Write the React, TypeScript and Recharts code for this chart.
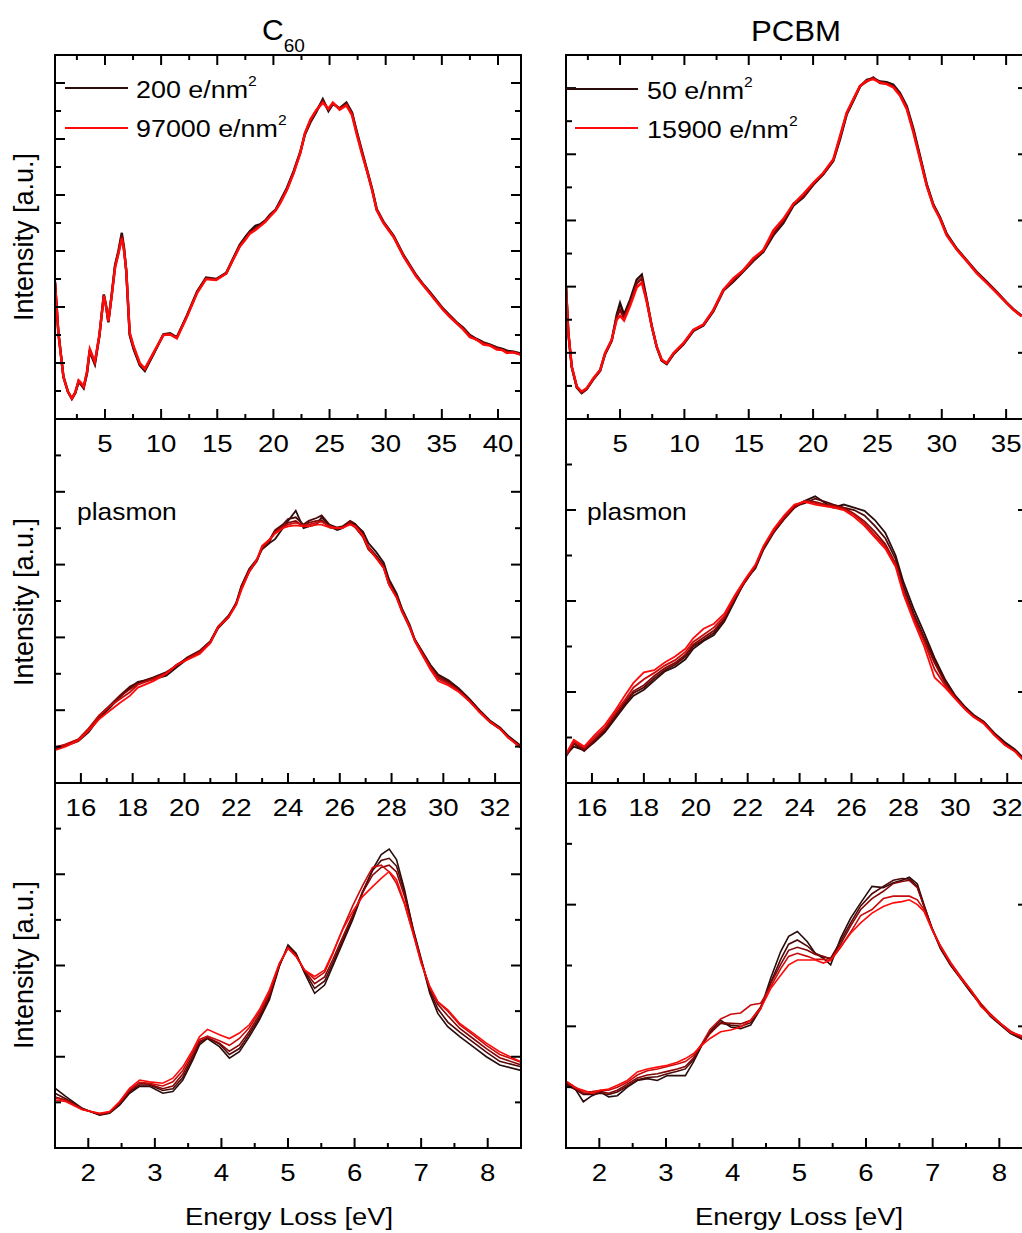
import React from "react";
import { LineChart, Line, XAxis, YAxis } from "recharts";

// ---------- data ----------
// dose series go from first dose (dark) to last dose (red)
const c60Doses = ["200", "97000"];
const pcbmDoses = ["50", "15900"];

// C60, full range
const c60WideEnergy = [0.55, 0.85, 1.3, 1.7, 2.05, 2.35, 2.65, 2.85, 3.1, 3.4, 3.65, 3.85, 4.1, 4.5, 4.9, 5.1, 5.3, 5.6, 5.9, 6.2, 6.5, 6.7, 6.9, 7.2, 7.55, 8.1, 8.55, 9.3, 10.2, 10.8, 11.4, 12.3, 13.2, 14.0, 14.9, 15.8, 16.4, 17.0, 17.5, 17.9, 18.4, 18.8, 19.3, 19.7, 20.2, 20.6, 21.2, 21.8, 22.4, 22.8, 23.3, 23.8, 24.4, 24.9, 25.3, 25.9, 26.5, 27.0, 27.4, 27.9, 28.3, 28.8, 29.2, 29.8, 30.7, 31.6, 32.7, 33.4, 33.9, 34.5, 35.1, 35.7, 36.3, 36.9, 37.5, 38.1, 38.7, 39.3, 39.9, 40.4, 40.8, 41.4, 42.0];
const c60WideLow = [4.9, 3.1, 1.52, 0.98, 0.72, 0.92, 1.32, 1.24, 1.1, 1.62, 2.45, 2.2, 1.95, 2.95, 4.45, 4.05, 3.45, 4.45, 5.5, 6.0, 6.65, 6.1, 5.25, 3.0, 2.5, 1.92, 1.72, 2.3, 3.02, 3.06, 2.92, 3.7, 4.55, 5.05, 5.0, 5.22, 5.72, 6.22, 6.5, 6.7, 6.9, 6.95, 7.1, 7.3, 7.48, 7.78, 8.25, 8.85, 9.55, 10.15, 10.6, 10.95, 11.42, 11.0, 11.25, 11.1, 11.3, 10.95, 10.3, 9.55, 8.95, 8.2, 7.5, 7.05, 6.55, 5.85, 5.15, 4.78, 4.55, 4.25, 3.95, 3.7, 3.46, 3.26, 3.0, 2.86, 2.74, 2.66, 2.56, 2.5, 2.44, 2.4, 2.34];
const c60WideMid = [4.88, 3.08, 1.5, 0.97, 0.73, 0.94, 1.35, 1.27, 1.13, 1.66, 2.48, 2.25, 2.0, 2.98, 4.42, 4.02, 3.48, 4.42, 5.45, 5.95, 6.55, 6.05, 5.28, 3.05, 2.55, 1.96, 1.76, 2.32, 3.0, 3.04, 2.9, 3.68, 4.52, 5.02, 4.98, 5.2, 5.7, 6.18, 6.45, 6.66, 6.8, 6.9, 7.08, 7.26, 7.46, 7.74, 8.2, 8.8, 9.52, 10.18, 10.66, 11.0, 11.35, 11.05, 11.28, 11.08, 11.25, 10.9, 10.25, 9.5, 8.92, 8.18, 7.48, 7.02, 6.52, 5.82, 5.12, 4.76, 4.52, 4.22, 3.92, 3.68, 3.44, 3.22, 2.98, 2.82, 2.72, 2.63, 2.54, 2.47, 2.4, 2.38, 2.31];
const c60WideHigh = [4.86, 3.05, 1.5, 0.98, 0.74, 0.95, 1.38, 1.3, 1.16, 1.7, 2.5, 2.3, 2.05, 3.0, 4.4, 4.0, 3.5, 4.4, 5.4, 5.9, 6.45, 6.0, 5.3, 3.1, 2.6, 2.0, 1.8, 2.35, 3.0, 3.02, 2.88, 3.65, 4.5, 5.0, 4.96, 5.2, 5.68, 6.15, 6.4, 6.62, 6.75, 6.88, 7.05, 7.23, 7.45, 7.7, 8.18, 8.78, 9.5, 10.2, 10.7, 11.02, 11.3, 11.08, 11.3, 11.05, 11.2, 10.85, 10.2, 9.45, 8.9, 8.15, 7.45, 7.0, 6.5, 5.8, 5.1, 4.75, 4.5, 4.2, 3.9, 3.65, 3.42, 3.2, 2.92, 2.84, 2.66, 2.62, 2.48, 2.46, 2.36, 2.38, 2.3];

// PCBM, full range
const pcbmWideEnergy = [0.8, 0.98, 1.25, 1.64, 2.02, 2.41, 2.93, 3.45, 3.83, 4.35, 4.74, 5.0, 5.31, 5.78, 6.3, 6.69, 7.07, 7.46, 7.85, 8.24, 8.63, 9.14, 9.92, 10.7, 11.47, 12.25, 13.03, 13.8, 14.58, 15.36, 16.13, 16.91, 17.69, 18.47, 19.24, 20.02, 20.8, 21.57, 22.09, 22.61, 23.13, 23.65, 24.17, 24.68, 25.2, 25.72, 26.24, 26.76, 27.28, 27.79, 28.31, 28.83, 29.35, 29.86, 30.38, 31.16, 31.94, 32.71, 33.49, 34.27, 35.04, 35.56, 36.2];
const pcbmWideLow = [4.0, 2.62, 1.56, 0.95, 0.78, 0.9, 1.2, 1.45, 1.95, 2.36, 3.15, 3.5, 3.15, 3.6, 4.21, 4.36, 3.62, 2.82, 2.17, 1.76, 1.66, 1.95, 2.25, 2.66, 2.82, 3.25, 3.88, 4.15, 4.46, 4.78, 5.05, 5.55, 5.92, 6.45, 6.7, 7.08, 7.4, 7.8, 8.45, 9.2, 9.62, 10.05, 10.25, 10.3, 10.2, 10.18, 10.1, 9.85, 9.45, 8.78, 7.95, 7.1, 6.48, 6.1, 5.6, 5.15, 4.8, 4.45, 4.15, 3.84, 3.52, 3.32, 3.12];
const pcbmWideMid = [4.0, 2.61, 1.57, 0.97, 0.8, 0.92, 1.22, 1.47, 1.97, 2.38, 3.08, 3.3, 3.05, 3.5, 4.1, 4.25, 3.58, 2.81, 2.18, 1.78, 1.68, 1.97, 2.27, 2.68, 2.84, 3.28, 3.9, 4.18, 4.49, 4.8, 5.1, 5.6, 5.98, 6.5, 6.72, 7.1, 7.42, 7.82, 8.5, 9.23, 9.65, 10.06, 10.2, 10.32, 10.15, 10.14, 10.05, 9.8, 9.4, 8.72, 7.9, 7.07, 6.45, 6.08, 5.58, 5.13, 4.78, 4.43, 4.13, 3.82, 3.51, 3.31, 3.11];
const pcbmWideHigh = [4.0, 2.6, 1.58, 0.98, 0.83, 0.93, 1.23, 1.48, 1.99, 2.39, 3.0, 3.12, 2.98, 3.42, 3.98, 4.12, 3.55, 2.8, 2.19, 1.79, 1.69, 1.99, 2.29, 2.7, 2.85, 3.3, 3.91, 4.25, 4.5, 4.86, 5.1, 5.7, 6.05, 6.5, 6.8, 7.14, 7.44, 7.85, 8.55, 9.26, 9.67, 10.07, 10.22, 10.27, 10.17, 10.12, 10.02, 9.77, 9.36, 8.66, 7.85, 7.04, 6.43, 6.05, 5.55, 5.12, 4.77, 4.41, 4.11, 3.81, 3.5, 3.3, 3.1];

// C60, plasmon
const c60PlasmonEnergy = [15.0, 15.4, 15.9, 16.3, 16.7, 17.1, 17.5, 17.9, 18.2, 18.8, 19.3, 19.7, 20.1, 20.6, 21.0, 21.3, 21.7, 22.0, 22.2, 22.5, 22.8, 23.0, 23.3, 23.5, 23.8, 24.0, 24.3, 24.6, 24.8, 25.1, 25.3, 25.6, 25.9, 26.1, 26.4, 26.6, 26.9, 27.1, 27.4, 27.7, 27.9, 28.2, 28.4, 28.7, 28.9, 29.2, 29.5, 29.8, 30.2, 30.6, 31.0, 31.4, 31.8, 32.2, 32.5, 33.0];
const c60Plasmon1 = [0.92, 1.02, 1.15, 1.4, 1.78, 2.05, 2.35, 2.62, 2.78, 2.85, 2.95, 3.18, 3.4, 3.58, 3.85, 4.25, 4.55, 4.95, 5.42, 5.88, 6.15, 6.42, 6.6, 6.7, 7.0, 7.2, 7.48, 7.0, 7.05, 7.1, 7.3, 7.05, 6.95, 7.0, 7.15, 7.1, 6.9, 6.6, 6.35, 6.05, 5.6, 5.2, 4.8, 4.35, 3.95, 3.6, 3.25, 2.98, 2.82, 2.6, 2.32, 2.0, 1.72, 1.52, 1.3, 1.02];
const c60Plasmon2 = [0.95, 1.04, 1.2, 1.48, 1.85, 2.12, 2.4, 2.65, 2.76, 2.9, 3.05, 3.22, 3.45, 3.64, 3.9, 4.3, 4.6, 4.92, 5.35, 5.8, 6.1, 6.48, 6.7, 6.95, 7.1, 7.25, 7.3, 7.1, 7.2, 7.28, 7.35, 7.1, 7.02, 7.05, 7.2, 7.12, 6.85, 6.5, 6.25, 5.98, 5.52, 5.15, 4.78, 4.3, 3.94, 3.58, 3.22, 2.95, 2.8, 2.57, 2.3, 1.98, 1.7, 1.5, 1.28, 1.0];
const c60Plasmon3 = [0.97, 1.05, 1.18, 1.45, 1.8, 2.1, 2.38, 2.58, 2.72, 2.88, 3.0, 3.25, 3.42, 3.62, 3.88, 4.28, 4.58, 4.95, 5.4, 5.85, 6.12, 6.45, 6.65, 6.92, 7.05, 7.15, 7.2, 7.05, 7.15, 7.2, 7.22, 7.02, 6.98, 7.02, 7.18, 7.02, 6.75, 6.42, 6.2, 5.9, 5.45, 5.1, 4.72, 4.26, 3.9, 3.52, 3.18, 2.9, 2.76, 2.53, 2.26, 1.95, 1.67, 1.48, 1.25, 0.97];
const c60Plasmon4 = [0.98, 1.06, 1.2, 1.5, 1.85, 2.1, 2.3, 2.5, 2.7, 2.85, 3.02, 3.25, 3.4, 3.6, 3.86, 4.3, 4.55, 4.9, 5.35, 5.82, 6.12, 6.48, 6.68, 6.88, 7.02, 7.1, 7.15, 7.08, 7.1, 7.15, 7.18, 7.05, 7.0, 7.02, 7.12, 7.02, 6.78, 6.45, 6.2, 5.92, 5.48, 5.1, 4.74, 4.3, 3.92, 3.55, 3.18, 2.86, 2.72, 2.52, 2.26, 1.95, 1.68, 1.48, 1.26, 0.98];
const c60Plasmon5 = [0.9, 1.0, 1.16, 1.44, 1.75, 1.98, 2.2, 2.4, 2.62, 2.8, 3.0, 3.24, 3.38, 3.55, 3.85, 4.28, 4.55, 4.9, 5.3, 5.8, 6.15, 6.52, 6.7, 6.85, 7.0, 7.05, 7.08, 7.05, 7.05, 7.1, 7.1, 7.02, 7.0, 7.0, 7.1, 7.05, 6.8, 6.48, 6.18, 5.9, 5.45, 5.08, 4.7, 4.28, 3.9, 3.5, 3.12, 2.8, 2.68, 2.5, 2.25, 1.95, 1.68, 1.48, 1.25, 0.96];

// PCBM, plasmon
const pcbmPlasmonEnergy = [15.0, 15.3, 15.7, 16.1, 16.5, 16.9, 17.3, 17.6, 18.0, 18.4, 18.8, 19.2, 19.6, 19.9, 20.3, 20.7, 21.1, 21.5, 21.9, 22.3, 22.6, 23.0, 23.4, 23.8, 24.2, 24.6, 25.0, 25.3, 25.7, 26.1, 26.5, 26.9, 27.3, 27.7, 28.0, 28.4, 28.8, 29.2, 29.6, 30.0, 30.4, 30.7, 31.1, 31.5, 31.9, 32.3, 32.6, 33.0];
const pcbmPlasmon1 = [0.62, 0.8, 0.72, 0.9, 1.12, 1.42, 1.72, 1.92, 2.05, 2.25, 2.45, 2.55, 2.72, 2.95, 3.12, 3.25, 3.55, 4.0, 4.45, 4.72, 5.12, 5.5, 5.8, 6.05, 6.2, 6.3, 6.15, 6.05, 6.12, 6.05, 5.98, 5.78, 5.5, 5.0, 4.42, 3.82, 3.3, 2.75, 2.28, 1.92, 1.66, 1.5, 1.35, 1.1, 0.9, 0.74, 0.56, 0.42];
const pcbmPlasmon2 = [0.58, 0.86, 0.7, 0.92, 1.15, 1.46, 1.76, 1.98, 2.1, 2.3, 2.48, 2.6, 2.78, 3.0, 3.15, 3.3, 3.6, 4.05, 4.42, 4.75, 5.15, 5.55, 5.82, 6.08, 6.15, 6.25, 6.18, 6.12, 6.05, 6.0, 5.88, 5.65, 5.38, 4.92, 4.32, 3.72, 3.2, 2.7, 2.25, 1.9, 1.64, 1.48, 1.34, 1.08, 0.87, 0.72, 0.54, 0.4];
const pcbmPlasmon3 = [0.6, 0.88, 0.74, 0.95, 1.18, 1.5, 1.8, 2.02, 2.15, 2.35, 2.52, 2.64, 2.82, 3.04, 3.2, 3.35, 3.62, 4.06, 4.42, 4.76, 5.16, 5.52, 5.8, 6.05, 6.2, 6.18, 6.12, 6.1, 6.05, 5.92, 5.75, 5.52, 5.25, 4.82, 4.22, 3.65, 3.15, 2.64, 2.2, 1.88, 1.62, 1.47, 1.33, 1.07, 0.85, 0.7, 0.52, 0.38];
const pcbmPlasmon4 = [0.62, 0.92, 0.78, 1.0, 1.22, 1.55, 1.85, 2.1, 2.28, 2.42, 2.58, 2.7, 2.88, 3.1, 3.26, 3.42, 3.66, 4.08, 4.45, 4.78, 5.18, 5.55, 5.85, 6.1, 6.2, 6.15, 6.1, 6.08, 6.02, 5.9, 5.7, 5.45, 5.2, 4.8, 4.2, 3.6, 3.1, 2.5, 2.15, 1.86, 1.62, 1.46, 1.32, 1.06, 0.84, 0.7, 0.52, 0.38];
const pcbmPlasmon5 = [0.64, 0.95, 0.8, 1.05, 1.28, 1.6, 1.95, 2.2, 2.43, 2.48, 2.65, 2.78, 2.95, 3.18, 3.39, 3.5, 3.72, 4.12, 4.48, 4.8, 5.2, 5.58, 5.88, 6.12, 6.18, 6.12, 6.08, 6.05, 6.0, 5.85, 5.65, 5.4, 5.15, 4.75, 4.15, 3.55, 3.0, 2.32, 2.1, 1.85, 1.6, 1.45, 1.3, 1.05, 0.84, 0.69, 0.51, 0.38];

// C60, low loss
const c60LowEnergy = [1.5, 1.66, 1.91, 2.17, 2.32, 2.47, 2.62, 2.77, 2.92, 3.12, 3.27, 3.42, 3.57, 3.67, 3.79, 3.97, 4.12, 4.27, 4.42, 4.57, 4.72, 4.87, 5.0, 5.12, 5.25, 5.4, 5.55, 5.67, 5.82, 5.97, 6.12, 6.27, 6.4, 6.52, 6.63, 6.75, 6.88, 7.0, 7.13, 7.25, 7.4, 7.58, 7.78, 7.98, 8.18, 8.5];
const c60Low1 = [1.31, 1.13, 0.87, 0.72, 0.76, 0.94, 1.2, 1.35, 1.35, 1.2, 1.24, 1.49, 1.93, 2.26, 2.4, 2.22, 1.97, 2.11, 2.44, 2.81, 3.25, 3.98, 4.45, 4.27, 3.83, 3.39, 3.57, 3.98, 4.49, 5.0, 5.59, 6.1, 6.43, 6.55, 6.32, 5.66, 4.78, 4.12, 3.39, 2.95, 2.66, 2.44, 2.22, 2.0, 1.82, 1.7];
const c60Low2 = [1.2, 1.08, 0.86, 0.73, 0.77, 0.96, 1.23, 1.38, 1.38, 1.26, 1.3, 1.55, 1.98, 2.3, 2.42, 2.28, 2.05, 2.18, 2.5, 2.86, 3.3, 4.0, 4.42, 4.25, 3.86, 3.5, 3.66, 4.05, 4.55, 5.05, 5.62, 6.08, 6.3, 6.35, 6.18, 5.6, 4.8, 4.15, 3.45, 3.05, 2.76, 2.54, 2.32, 2.1, 1.9, 1.78];
const c60Low3 = [1.12, 1.05, 0.85, 0.74, 0.78, 0.98, 1.26, 1.42, 1.4, 1.3, 1.36, 1.62, 2.04, 2.34, 2.42, 2.3, 2.12, 2.26, 2.56, 2.92, 3.35, 4.02, 4.4, 4.22, 3.88, 3.6, 3.75, 4.12, 4.62, 5.1, 5.6, 5.98, 6.15, 6.2, 6.05, 5.52, 4.75, 4.1, 3.5, 3.15, 2.9, 2.62, 2.4, 2.18, 1.98, 1.82];
const c60Low4 = [1.1, 1.04, 0.85, 0.75, 0.79, 1.0, 1.28, 1.44, 1.42, 1.36, 1.45, 1.7, 2.1, 2.38, 2.45, 2.35, 2.25, 2.4, 2.64, 2.98, 3.4, 4.03, 4.38, 4.2, 3.9, 3.7, 3.85, 4.25, 4.8, 5.3, 5.75, 6.15, 6.2, 6.05, 5.8, 5.35, 4.7, 4.08, 3.52, 3.2, 3.0, 2.7, 2.48, 2.25, 2.05, 1.88];
const c60Low5 = [1.05, 1.02, 0.84, 0.76, 0.8, 1.02, 1.31, 1.49, 1.45, 1.42, 1.53, 1.78, 2.15, 2.44, 2.6, 2.48, 2.4, 2.52, 2.7, 3.03, 3.46, 4.05, 4.38, 4.2, 3.9, 3.76, 3.9, 4.27, 4.78, 5.18, 5.51, 5.73, 5.91, 6.06, 5.88, 5.37, 4.7, 4.05, 3.54, 3.21, 3.03, 2.73, 2.52, 2.3, 2.11, 1.89];

// PCBM, low loss
const pcbmLowEnergy = [1.5, 1.64, 1.76, 1.89, 2.02, 2.14, 2.27, 2.42, 2.57, 2.72, 2.87, 3.02, 3.17, 3.29, 3.41, 3.54, 3.66, 3.82, 3.97, 4.12, 4.27, 4.42, 4.57, 4.72, 4.84, 4.97, 5.12, 5.24, 5.36, 5.47, 5.62, 5.77, 5.92, 6.09, 6.26, 6.41, 6.54, 6.65, 6.77, 6.87, 6.99, 7.12, 7.27, 7.42, 7.57, 7.72, 7.87, 8.02, 8.17, 8.32, 8.5];
const pcbmLow1 = [1.08, 0.97, 0.76, 0.86, 0.92, 0.84, 0.86, 1.0, 1.11, 1.14, 1.11, 1.19, 1.19, 1.19, 1.41, 1.69, 1.91, 2.1, 1.99, 1.96, 2.02, 2.29, 2.79, 3.23, 3.48, 3.56, 3.39, 3.2, 3.12, 3.01, 3.45, 3.78, 4.03, 4.3, 4.28, 4.36, 4.4, 4.45, 4.34, 4.0, 3.61, 3.28, 3.01, 2.79, 2.57, 2.35, 2.16, 2.02, 1.88, 1.8, 1.72];
const pcbmLow2 = [1.04, 0.96, 0.88, 0.88, 0.9, 0.88, 0.92, 1.02, 1.12, 1.16, 1.17, 1.22, 1.26, 1.3, 1.45, 1.7, 1.9, 2.05, 2.02, 2.0, 2.06, 2.3, 2.72, 3.1, 3.35, 3.42, 3.32, 3.2, 3.14, 3.12, 3.4, 3.7, 3.98, 4.18, 4.3, 4.4, 4.43, 4.42, 4.3, 3.98, 3.6, 3.27, 3.0, 2.78, 2.56, 2.36, 2.17, 2.03, 1.89, 1.8, 1.73];
const pcbmLow3 = [1.06, 0.98, 0.9, 0.9, 0.93, 0.9, 0.95, 1.05, 1.15, 1.2, 1.22, 1.26, 1.3, 1.34, 1.48, 1.7, 1.88, 2.06, 2.05, 2.04, 2.1, 2.32, 2.7, 3.02, 3.25, 3.3, 3.25, 3.18, 3.15, 3.1, 3.35, 3.65, 3.92, 4.1, 4.22, 4.35, 4.38, 4.4, 4.28, 3.97, 3.62, 3.3, 3.02, 2.8, 2.58, 2.37, 2.18, 2.04, 1.9, 1.82, 1.74];
const pcbmLow4 = [1.1, 1.0, 0.92, 0.93, 0.95, 0.95, 1.0, 1.08, 1.2, 1.27, 1.3, 1.34, 1.38, 1.42, 1.52, 1.72, 1.95, 2.12, 2.2, 2.22, 2.35, 2.38, 2.65, 2.95, 3.15, 3.2, 3.15, 3.1, 3.1, 3.08, 3.3, 3.55, 3.82, 3.92, 4.1, 4.14, 4.14, 4.14, 4.08, 3.92, 3.6, 3.32, 3.05, 2.82, 2.6, 2.38, 2.2, 2.05, 1.92, 1.84, 1.76];
const pcbmLow5 = [1.1, 0.99, 0.95, 0.9, 0.95, 0.97, 1.03, 1.11, 1.25, 1.3, 1.33, 1.36, 1.41, 1.47, 1.55, 1.69, 1.8, 1.91, 1.94, 1.99, 2.1, 2.29, 2.62, 2.84, 3.01, 3.09, 3.09, 3.09, 3.04, 3.09, 3.31, 3.53, 3.7, 3.86, 3.97, 4.03, 4.05, 4.08, 4.0, 3.89, 3.59, 3.31, 3.04, 2.79, 2.6, 2.33, 2.18, 2.04, 1.9, 1.85, 1.78];

// axis ticks
const wideTicksC60 = [2.5, 5, 7.5, 10, 12.5, 15, 17.5, 20, 22.5, 25, 27.5, 30, 32.5, 35, 37.5, 40];
const wideTicksPcbm = [2.5, 5, 7.5, 10, 12.5, 15, 17.5, 20, 22.5, 25, 27.5, 30, 32.5, 35];
const plasmonTicks = [16, 17, 18, 19, 20, 21, 22, 23, 24, 25, 26, 27, 28, 29, 30, 31, 32];
const lowLossTicks = [2, 2.5, 3, 3.5, 4, 4.5, 5, 5.5, 6, 6.5, 7, 7.5, 8];
const yTicks13 = [1, 2, 3, 4, 5, 6, 7, 8, 9, 10, 11, 12];
const yTicks11 = [1, 2, 3, 4, 5, 6, 7, 8, 9, 10];
const yTicks10 = [1, 2, 3, 4, 5, 6, 7, 8, 9];
const yTicks8 = [1, 2, 3, 4, 5, 6, 7];
const yTicks6 = [1, 2, 3, 4, 5];

// ---------- layout ----------
const FONT = '"Liberation Sans", Arial, Helvetica, sans-serif';
const doseColors = ["#2a0c0c", "#500808", "#850606", "#c80c0c", "#ff0a0a"];
const wideColors = [doseColors[0], doseColors[2], doseColors[4]];
const PAD_L = 14;
const PAD_R = 14;
const PAD_T = 6;
const PAD_B = 44;

type Panel = {
  id: string;
  left: number;
  top: number;
  w: number;
  h: number;
  xs: number[];
  series: number[][];
  colors: string[];
  lineWidth: number;
  xDomain: [number, number];
  xTicks: number[];
  majorStep: number;
  yMax: number;
  yTicks: number[];
  topTicks: boolean;
};

const toRows = (xs: number[], series: number[][]) =>
  xs.map((x, i) => {
    const row: Record<string, number> = { x };
    series.forEach((s, j) => {
      row["s" + j] = s[i];
    });
    return row;
  });

const panels: Panel[] = [
  { id: "c60wide", left: 55, top: 55, w: 466, h: 364, xs: c60WideEnergy, series: [c60WideLow, c60WideMid, c60WideHigh], colors: wideColors, lineWidth: 2.4, xDomain: [0.55, 42.05], xTicks: wideTicksC60, majorStep: 5, yMax: 13, yTicks: yTicks13, topTicks: true },
  { id: "c60plasmon", left: 55, top: 419, w: 466, h: 364, xs: c60PlasmonEnergy, series: [c60Plasmon1, c60Plasmon2, c60Plasmon3, c60Plasmon4, c60Plasmon5], colors: doseColors, lineWidth: 1.8, xDomain: [15, 33], xTicks: plasmonTicks, majorStep: 2, yMax: 10, yTicks: yTicks10, topTicks: false },
  { id: "c60low", left: 55, top: 783, w: 466, h: 365, xs: c60LowEnergy, series: [c60Low1, c60Low2, c60Low3, c60Low4, c60Low5], colors: doseColors, lineWidth: 1.6, xDomain: [1.5, 8.5], xTicks: lowLossTicks, majorStep: 1, yMax: 8, yTicks: yTicks8, topTicks: false },
  { id: "pcbmwide", left: 566, top: 55, w: 462, h: 364, xs: pcbmWideEnergy, series: [pcbmWideLow, pcbmWideMid, pcbmWideHigh], colors: wideColors, lineWidth: 2.4, xDomain: [0.8, 36.7], xTicks: wideTicksPcbm, majorStep: 5, yMax: 11, yTicks: yTicks11, topTicks: true },
  { id: "pcbmplasmon", left: 566, top: 419, w: 462, h: 364, xs: pcbmPlasmonEnergy, series: [pcbmPlasmon1, pcbmPlasmon2, pcbmPlasmon3, pcbmPlasmon4, pcbmPlasmon5], colors: doseColors, lineWidth: 1.8, xDomain: [15, 32.8], xTicks: plasmonTicks, majorStep: 2, yMax: 8, yTicks: yTicks8, topTicks: false },
  { id: "pcbmlow", left: 566, top: 783, w: 462, h: 365, xs: pcbmLowEnergy, series: [pcbmLow1, pcbmLow2, pcbmLow3, pcbmLow4, pcbmLow5], colors: doseColors, lineWidth: 1.6, xDomain: [1.5, 8.43], xTicks: lowLossTicks, majorStep: 1, yMax: 6, yTicks: yTicks6, topTicks: false },
];

const isMajor = (v: number, step: number) => Math.abs(v / step - Math.round(v / step)) < 1e-6;

const xTick = (p: Panel) => (props: any) => {
  const { x, y, payload } = props;
  const major = isMajor(payload.value, p.majorStep);
  const len = major ? 10 : 5;
  return (
    <g>
      <line x1={x} x2={x} y1={y} y2={y - len} stroke="#000" strokeWidth={2} />
      {p.topTicks && <line x1={x} x2={x} y1={y - p.h} y2={y - p.h + len} stroke="#000" strokeWidth={2} />}
      {major && (
        <text transform={`translate(${x} ${y + 33}) scale(1.15 1)`} textAnchor="middle" fontSize={24} fontFamily={FONT} fill="#000">
          {payload.value}
        </text>
      )}
    </g>
  );
};

const yTick = (p: Panel) => (props: any) => {
  const { x, y, payload } = props;
  const len = payload.value % 2 === 0 ? 10 : 6;
  return (
    <g>
      <line x1={x} x2={x + len} y1={y} y2={y} stroke="#000" strokeWidth={2} />
      <line x1={x + p.w - len} x2={x + p.w} y1={y} y2={y} stroke="#000" strokeWidth={2} />
    </g>
  );
};

const PanelChart = ({ p }: { p: Panel }) => (
  <div style={{ position: "absolute", left: p.left - PAD_L, top: p.top - PAD_T }}>
    <LineChart
      width={p.w + PAD_L + PAD_R}
      height={p.h + PAD_T + PAD_B}
      data={toRows(p.xs, p.series)}
      margin={{ top: PAD_T, right: PAD_R, bottom: 0, left: 0 }}
    >
      <XAxis
        type="number"
        dataKey="x"
        domain={p.xDomain}
        allowDataOverflow
        ticks={p.xTicks}
        interval={0}
        tickSize={0}
        tickMargin={0}
        axisLine={false}
        tickLine={false}
        height={PAD_B}
        tick={xTick(p)}
      />
      <YAxis
        type="number"
        domain={[0, p.yMax]}
        allowDataOverflow
        ticks={p.yTicks}
        interval={0}
        tickSize={0}
        tickMargin={0}
        axisLine={false}
        tickLine={false}
        width={PAD_L}
        tick={yTick(p)}
      />
      {p.series.map((_, j) => (
        <Line
          key={j}
          type="linear"
          dataKey={"s" + j}
          stroke={p.colors[j]}
          strokeWidth={p.lineWidth}
          dot={false}
          isAnimationActive={false}
        />
      ))}
    </LineChart>
  </div>
);

const Stretched = ({ x, y, sx, size, anchor, children }: any) => (
  <text transform={`translate(${x} ${y}) scale(${sx} 1)`} fontSize={size} fontFamily={FONT} textAnchor={anchor || "start"} fill="#000">
    {children}
  </text>
);

export default function App() {
  return (
    <div style={{ position: "fixed", left: 0, top: 0, width: 1022, height: 1233, overflow: "hidden", background: "#fff" }}>
      {panels.map((p) => (
        <PanelChart key={p.id} p={p} />
      ))}
      {panels.map((p) => (
        <div
          key={p.id + "-frame"}
          style={{ position: "absolute", left: p.left - 1, top: p.top - 1, width: p.w + 2, height: p.h + 2, border: "2px solid #000", boxSizing: "border-box" }}
        />
      ))}
      <svg width={1022} height={1233} style={{ position: "absolute", left: 0, top: 0, pointerEvents: "none" }}>
        {/* titles */}
        <text x={262} y={40} fontSize={30} fontFamily={FONT} fill="#000">
          C<tspan fontSize={19} dy={12}>60</tspan>
        </text>
        <Stretched x={796} y={41} sx={1.04} size={30} anchor="middle">PCBM</Stretched>

        {/* y axis titles */}
        {[237, 602, 965].map((cy) => (
          <text key={cy} transform={`translate(33 ${cy}) rotate(-90)`} textAnchor="middle" fontSize={27} fontFamily={FONT} fill="#000">
            Intensity [a.u.]
          </text>
        ))}

        {/* x axis titles */}
        <Stretched x={289} y={1225} sx={1.14} size={24} anchor="middle">Energy Loss [eV]</Stretched>
        <Stretched x={799} y={1225} sx={1.14} size={24} anchor="middle">Energy Loss [eV]</Stretched>

        {/* plasmon labels */}
        <Stretched x={77} y={520} sx={1.1} size={24}>plasmon</Stretched>
        <Stretched x={587} y={520} sx={1.1} size={24}>plasmon</Stretched>

        {/* legends */}
        <line x1={65} x2={128} y1={88} y2={88} stroke={doseColors[0]} strokeWidth={2} />
        <line x1={65} x2={128} y1={128} y2={128} stroke={doseColors[4]} strokeWidth={2} />
        <Stretched x={136} y={98} sx={1.12} size={24}>
          {c60Doses[0]} e/nm<tspan fontSize={14} dy={-12}>2</tspan>
        </Stretched>
        <Stretched x={136} y={137} sx={1.12} size={24}>
          {c60Doses[1]} e/nm<tspan fontSize={14} dy={-12}>2</tspan>
        </Stretched>
        <line x1={566} x2={638} y1={89} y2={89} stroke={doseColors[0]} strokeWidth={2} />
        <line x1={575} x2={638} y1={128} y2={128} stroke={doseColors[4]} strokeWidth={2} />
        <Stretched x={647} y={99} sx={1.12} size={24}>
          {pcbmDoses[0]} e/nm<tspan fontSize={14} dy={-12}>2</tspan>
        </Stretched>
        <Stretched x={647} y={138} sx={1.12} size={24}>
          {pcbmDoses[1]} e/nm<tspan fontSize={14} dy={-12}>2</tspan>
        </Stretched>
      </svg>
    </div>
  );
}
